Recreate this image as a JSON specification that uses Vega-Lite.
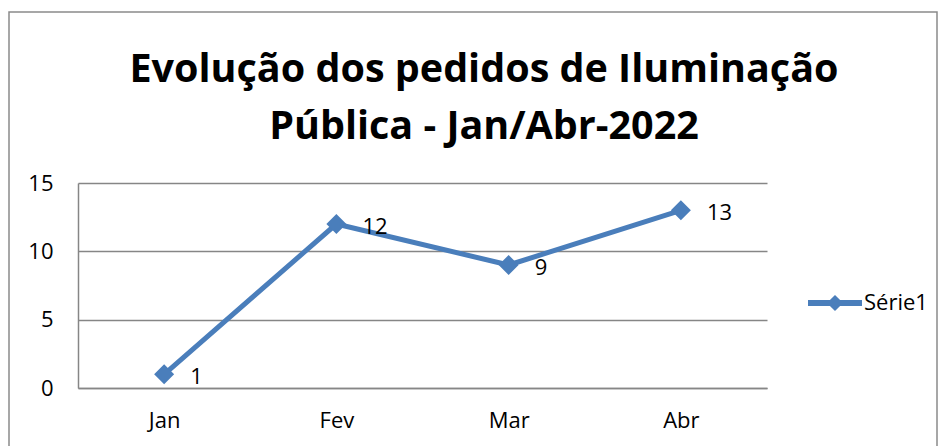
{
  "$schema": "https://vega.github.io/schema/vega-lite/v6.json",
  "autosize": {"type": "none"},
  "padding": {"left": 9, "top": 12, "right": 10, "bottom": 0},
  "width": 928,
  "height": 440,
  "background": "white",
  "config": {
    "view": {"stroke": "#8a8a8a", "strokeWidth": 1.5},
    "font": "Open Sans"
  },
  "title": {
    "text": ["Evolução dos pedidos de Iluminação", "Pública - Jan/Abr-2022"],
    "font": "Open Sans",
    "fontSize": 39.5,
    "fontWeight": "bold",
    "color": "#000000",
    "anchor": "middle",
    "frame": "group",
    "orient": "top",
    "baseline": "top",
    "lineHeight": 57,
    "offset": -135,
    "dx": 11
  },
  "data": {
    "values": [
      {"mes": "Jan", "valor": 1},
      {"mes": "Fev", "valor": 12},
      {"mes": "Mar", "valor": 9},
      {"mes": "Abr", "valor": 13}
    ]
  },
  "encoding": {
    "x": {
      "field": "mes",
      "type": "ordinal",
      "sort": null,
      "scale": {"type": "point", "range": [69, 758], "padding": 0.5},
      "axis": {
        "title": null,
        "orient": "bottom",
        "offset": -64,
        "labelAngle": 0,
        "labelFont": "Open Sans",
        "labelFontSize": 22,
        "labelColor": "#000000",
        "labelPadding": 22,
        "labelBaseline": "top",
        "ticks": false,
        "tickSize": 0,
        "grid": false,
        "domain": true,
        "domainColor": "#868686",
        "domainWidth": 1.5
      }
    },
    "y": {
      "field": "valor",
      "type": "quantitative",
      "scale": {"domain": [0, 15], "range": [376, 171], "nice": false, "zero": true},
      "axis": {
        "title": null,
        "orient": "left",
        "offset": -69,
        "values": [0, 5, 10, 15],
        "labelFont": "Open Sans",
        "labelFontSize": 22,
        "labelColor": "#000000",
        "labelPadding": 25,
        "ticks": false,
        "tickSize": 0,
        "grid": true,
        "gridColor": "#868686",
        "gridWidth": 1.5,
        "domain": true,
        "domainColor": "#868686",
        "domainWidth": 1.5
      }
    }
  },
  "layer": [
    {
      "mark": {"type": "line", "strokeWidth": 5, "strokeJoin": "round", "color": "#4A7EBB"},
      "encoding": {
        "color": {
          "datum": "Série1",
          "scale": {"range": ["#4A7EBB"]},
          "legend": {
            "title": null,
            "orient": "none",
            "legendX": 799,
            "legendY": 264,
            "symbolType": "M-1,-0.11L1,-0.11L1,0.11L-1,0.11Z M0,-0.3L0.3,0L0,0.3L-0.3,0Z",
            "symbolSize": 2916,
            "labelFont": "Open Sans",
            "labelFontSize": 22,
            "labelColor": "#000000",
            "labelOffset": 2,
            "encode": {
              "symbols": {"update": {"fill": {"value": "#4A7EBB"}, "stroke": {"value": "#4A7EBB"}, "strokeWidth": {"value": 0}, "opacity": {"value": 1}}}
            }
          }
        }
      }
    },
    {
      "mark": {"type": "point", "shape": "diamond", "size": 400, "filled": true, "opacity": 1, "color": "#4A7EBB"}
    },
    {
      "mark": {"type": "text", "align": "left", "baseline": "middle", "dx": 26, "dy": 3, "font": "Open Sans", "fontSize": 22, "color": "#000000"},
      "encoding": {"text": {"field": "valor", "type": "quantitative"}}
    }
  ]
}
